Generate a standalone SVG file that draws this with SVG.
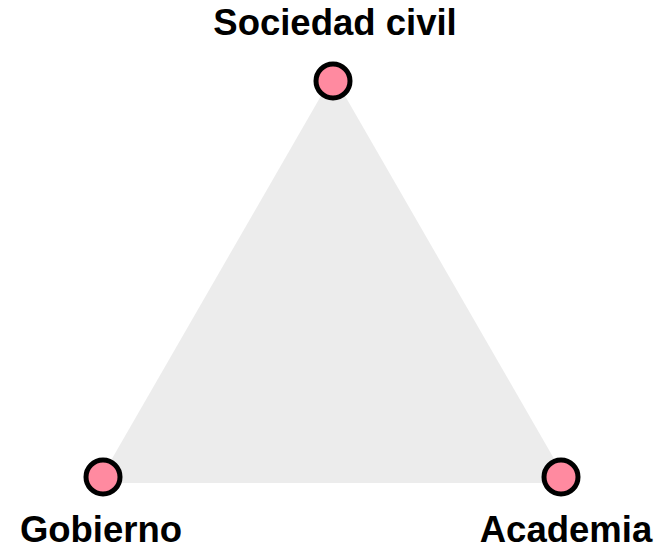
<svg xmlns="http://www.w3.org/2000/svg" width="662" height="550" viewBox="0 0 662 550">
<style>
.lbl{font-family:"Liberation Sans",Arial,sans-serif;font-weight:bold;font-size:36.5px;fill:#000;text-anchor:middle}
.node{fill:#ff8aa0;stroke:#000;stroke-width:5}
</style>
<rect width="662" height="550" fill="#fff"/>
<g id="connectors">
<polygon points="333,75 98,483 568,483" fill="#ececec"/>
</g>
<g id="sociedad">
<circle class="node" cx="333" cy="81" r="17"/>
<text class="lbl" x="335" y="35">Sociedad civil</text>
</g>
<g id="gobierno">
<circle class="node" cx="103" cy="477" r="17"/>
<text class="lbl" x="101" y="542">Gobierno</text>
</g>
<g id="academia">
<circle class="node" cx="561" cy="477" r="17"/>
<text class="lbl" x="566" y="542">Academia</text>
</g>
</svg>
